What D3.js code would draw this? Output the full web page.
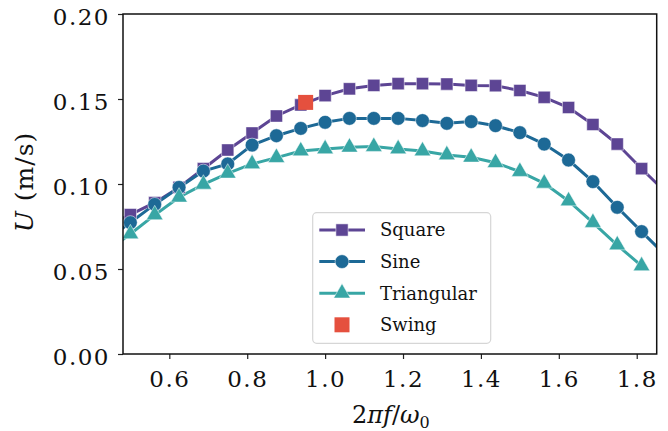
<!DOCTYPE html>
<html>
<head>
<meta charset="utf-8">
<script src="https://cdn.jsdelivr.net/npm/d3@7"></script>
<style>
  body { margin: 0; background: #fff; }
  svg { display: block; }
  text { font-family: "DejaVu Serif", "Liberation Serif", serif; fill: #111; }
</style>
</head>
<body>
<svg id="chart"></svg>
<script>
// forcing frequency 2*pi*f/omega0 (first and last entries lie just outside the axes)
const freq = [0.4375, 0.5, 0.5625, 0.625, 0.6875, 0.75, 0.8125, 0.875, 0.9375, 1.0, 1.0625, 1.125,
  1.1875, 1.25, 1.3125, 1.375, 1.4375, 1.5, 1.5625, 1.625, 1.6875, 1.75, 1.8125, 1.875];

// swimming speed U (m/s), null = no point
const square = [0.075, 0.082, 0.089, 0.098, 0.109, 0.120, 0.130, 0.140, 0.1465, 0.152, 0.156, 0.158,
  0.159, 0.159, 0.1588, 0.158, 0.1578, 0.155, 0.151, 0.145, 0.135, 0.1235, 0.109, 0.095];
const sine = [0.067, 0.0773, 0.088, 0.098, 0.1076, 0.1118, 0.1229, 0.1284, 0.1327, 0.1363, 0.1386, 0.1386,
  0.1386, 0.1373, 0.1357, 0.1367, 0.1343, 0.1302, 0.1235, 0.1141, 0.1014, 0.0863, 0.072, 0.0577];
const triangular = [0.060, 0.0706, 0.0818, 0.0922, 0.0998, 0.1063, 0.1118, 0.1155, 0.1194, 0.1206, 0.1216, 0.122,
  0.1206, 0.1194, 0.1171, 0.1157, 0.1125, 0.1073, 0.1004, 0.090, 0.0773, 0.0641, 0.0518, null];

const swingX = [0.95];
const swingY = [0.148];

const xTicks = [0.6, 0.8, 1.0, 1.2, 1.4, 1.6, 1.8];
const yTicks = [0.00, 0.05, 0.10, 0.15, 0.20];

const seriesNames = ["Square", "Sine", "Triangular", "Swing"];
const colors = ["#5d4594", "#1d6996", "#38a6a5", "#e5503e"];

const width = 668, height = 431;
const margin = {top: 14, right: 11.3, bottom: 77, left: 123};

const svg = d3.select('#chart').attr('width', width).attr('height', height);

const xScale = d3.scaleLinear().domain([0.4811, 1.8513]).range([margin.left, width - margin.right]);
const yScale = d3.scaleLinear().domain([0, 0.2]).range([height - margin.bottom, margin.top]);

svg.append('clipPath').attr('id', 'clip')
  .append('rect')
  .attr('x', margin.left).attr('y', margin.top)
  .attr('width', width - margin.left - margin.right)
  .attr('height', height - margin.top - margin.bottom);

const plot = svg.append('g').attr('clip-path', 'url(#clip)');

const line = d3.line()
  .defined(d => d[1] != null)
  .x(d => xScale(d[0]))
  .y(d => yScale(d[1]));

const series = [square, sine, triangular];
const shapes = [d3.symbolSquare, d3.symbolCircle, d3.symbolTriangle];
const sizes = [150, 150, 120];

series.forEach((vals, i) => {
  const pts = freq.map((f, j) => [f, vals[j]]);
  plot.append('path')
    .datum(pts)
    .attr('fill', 'none')
    .attr('stroke', colors[i])
    .attr('stroke-width', 3)
    .attr('d', line);
});

series.forEach((vals, i) => {
  const pts = freq.map((f, j) => [f, vals[j]]).filter(d => d[1] != null);
  plot.selectAll('.m' + i).data(pts).enter().append('path')
    .attr('class', 'm' + i)
    .attr('transform', d => `translate(${xScale(d[0])},${yScale(d[1])})`)
    .attr('d', d3.symbol().type(shapes[i]).size(sizes[i]))
    .attr('fill', colors[i])
    .attr('stroke', '#ffffff')
    .attr('stroke-opacity', 0.5)
    .attr('stroke-width', 1);
});

plot.selectAll('.swing').data(swingX).enter().append('rect')
  .attr('class', 'swing')
  .attr('x', (d, i) => xScale(d) - 7.5)
  .attr('y', (d, i) => yScale(swingY[i]) - 7.5)
  .attr('width', 15).attr('height', 15)
  .attr('fill', colors[3]);

// axes
const xAxis = d3.axisBottom(xScale).tickValues(xTicks).tickFormat(d3.format('.1f')).tickSize(5).tickPadding(12);
const gx = svg.append('g').attr('transform', `translate(0,${height - margin.bottom})`).call(xAxis);
const yAxis = d3.axisLeft(yScale).tickValues(yTicks).tickFormat(d3.format('.2f')).tickSize(5).tickPadding(8);
const gy = svg.append('g').attr('transform', `translate(${margin.left},0)`).call(yAxis);

[gx, gy].forEach(g => {
  g.select('.domain').remove();
  g.selectAll('line').attr('stroke', '#222').attr('stroke-width', 1.2);
  g.selectAll('text').style('font-family', '"DejaVu Serif", serif').style('font-size', '23px')
    .style('letter-spacing', '1.5px').attr('fill', '#111');
});
gy.selectAll('text').attr('dy', '0.45em');

// frame
svg.append('rect')
  .attr('x', margin.left).attr('y', margin.top)
  .attr('width', width - margin.left - margin.right)
  .attr('height', height - margin.top - margin.bottom)
  .attr('fill', 'none').attr('stroke', '#111').attr('stroke-width', 1.5);

// axis labels
const xl = svg.append('text')
  .attr('x', (margin.left + width - margin.right) / 2 + 1)
  .attr('y', 423)
  .attr('text-anchor', 'middle')
  .style('font-size', '24px');
xl.append('tspan').text('2');
xl.append('tspan').attr('font-style', 'italic').text('πf');
xl.append('tspan').text('/');
xl.append('tspan').attr('font-style', 'italic').text('ω');
xl.append('tspan').attr('font-size', '16px').attr('dy', 5).text('0');

const yl = svg.append('text')
  .attr('transform', `translate(33,${(margin.top + height - margin.bottom) / 2 - 2}) rotate(-90)`)
  .attr('text-anchor', 'middle')
  .style('font-size', '25px')
  .style('letter-spacing', '1px');
yl.append('tspan').attr('font-style', 'italic').text('U');
yl.append('tspan').text(' (m/s)');

// legend
const lg = svg.append('g');
lg.append('rect')
  .attr('x', 312.7).attr('y', 212.7).attr('width', 178).attr('height', 130.6)
  .attr('rx', 4).attr('fill', '#fff').attr('fill-opacity', 0.8)
  .attr('stroke', '#d6d6d6').attr('stroke-width', 1.2);

seriesNames.forEach((name, i) => {
  const cy = 230 + i * 31.6;
  if (i < 3) {
    lg.append('line')
      .attr('x1', 319.3).attr('x2', 365).attr('y1', cy).attr('y2', cy)
      .attr('stroke', colors[i]).attr('stroke-width', 3);
    lg.append('path')
      .attr('transform', `translate(342,${cy})`)
      .attr('d', d3.symbol().type(shapes[i]).size(sizes[i]))
      .attr('fill', colors[i])
      .attr('stroke', '#fff').attr('stroke-opacity', 0.5).attr('stroke-width', 1);
  } else {
    lg.append('rect')
      .attr('x', 342 - 7.5).attr('y', cy - 7.5).attr('width', 15).attr('height', 15)
      .attr('fill', colors[i]);
  }
  lg.append('text')
    .attr('x', 380).attr('y', cy).attr('dy', '0.36em')
    .style('font-size', '18px')
    .text(name);
});
</script>
</body>
</html>
